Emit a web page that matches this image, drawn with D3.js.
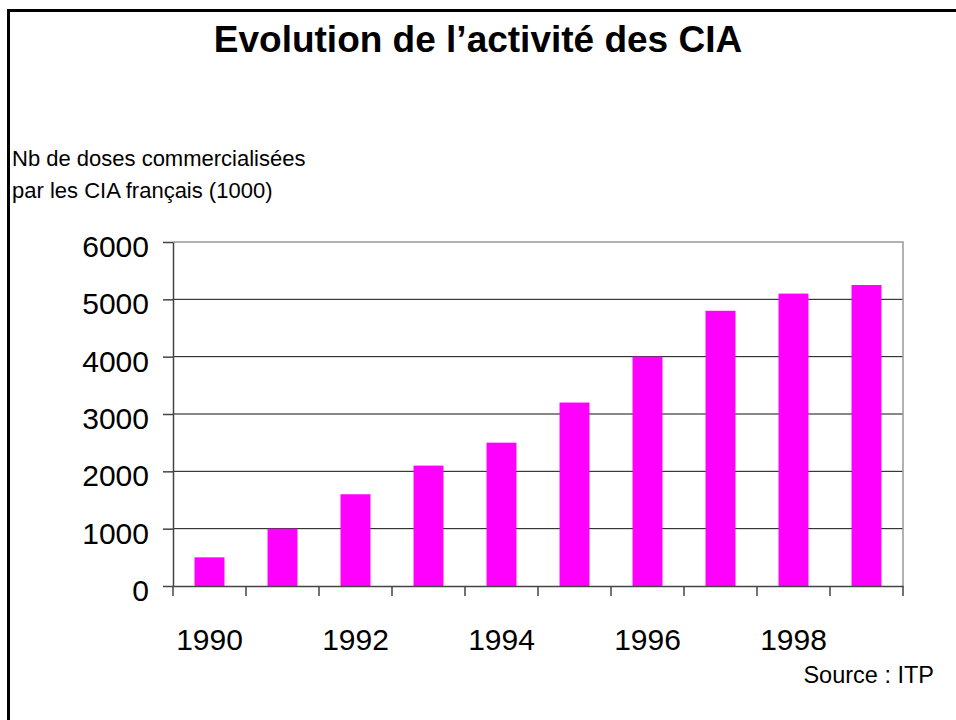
<!DOCTYPE html>
<html>
<head>
<meta charset="utf-8">
<script src="https://cdn.jsdelivr.net/npm/d3@7"></script>
<style>
  body { margin: 0; background: #fff; }
  text { font-family: "Liberation Sans", Arial, sans-serif; }
</style>
</head>
<body>
<div id="chart"></div>
<script>
// data (milliers de doses)
var years = [1990, 1991, 1992, 1993, 1994, 1995, 1996, 1997, 1998, 1999];
var doses = [500, 1000, 1600, 2100, 2500, 3200, 4000, 4800, 5100, 5250];
var yTicks = [0, 1000, 2000, 3000, 4000, 5000, 6000];
var yearLabels = [1990, 1992, 1994, 1996, 1998];

var width = 956, height = 720;
// note: "top" is window.top, so use other names
var plotLeft = 173, plotRight = 903, plotTop = 242, plotBottom = 586;

var svg = d3.select("#chart").append("svg")
    .attr("width", width)
    .attr("height", height);

svg.append("rect").attr("width", width).attr("height", height).attr("fill", "#fff");

// slide frame (top and left visible)
svg.append("path")
    .attr("d", "M8.5," + height + "V10.5H" + width)
    .attr("fill", "none")
    .attr("stroke", "#000")
    .attr("stroke-width", 3);

svg.append("text")
    .attr("x", width / 2)
    .attr("y", 52)
    .attr("text-anchor", "middle")
    .style("font-size", "37px")
    .style("font-weight", "bold")
    .text("Evolution de l\u2019activité des CIA");

svg.append("text")
    .attr("x", 12).attr("y", 166)
    .style("font-size", "22px")
    .text("Nb de doses commercialisées");
svg.append("text")
    .attr("x", 12).attr("y", 198)
    .style("font-size", "22px")
    .text("par les CIA français (1000)");

var x = d3.scaleBand().domain(years).range([plotLeft, plotRight]).padding(0);
var y = d3.scaleLinear().domain([0, 6000]).range([plotBottom, plotTop]);

// grid lines
svg.append("g")
    .selectAll("line")
    .data(yTicks.filter(function (d) { return d > 0 && d < 6000; }))
    .enter()
    .append("line")
    .attr("x1", plotLeft).attr("x2", plotRight)
    .attr("y1", function (d) { return y(d); })
    .attr("y2", function (d) { return y(d); })
    .attr("stroke", "#111")
    .attr("stroke-width", 1);

// plot area border top / right
svg.append("path")
    .attr("d", "M" + plotLeft + "," + y(6000) + "H" + plotRight + "V" + plotBottom)
    .attr("fill", "none")
    .attr("stroke", "#999")
    .attr("stroke-width", 1.5);

var barW = x.bandwidth() * 0.41;
svg.append("g")
    .selectAll("rect")
    .data(doses)
    .enter()
    .append("rect")
    .attr("x", function (d, i) { return x(years[i]) + (x.bandwidth() - barW) / 2; })
    .attr("y", function (d) { return y(d); })
    .attr("width", barW)
    .attr("height", function (d) { return y(0) - y(d); })
    .attr("fill", "#ff00ff");

// y axis
var yAxis = svg.append("g")
    .attr("transform", "translate(" + plotLeft + ",0)")
    .call(d3.axisLeft(y).tickValues(yTicks).tickSize(10).tickPadding(14).tickSizeOuter(0)
        .tickFormat(d3.format("d")));
yAxis.select(".domain").attr("stroke", "#444").attr("stroke-width", 1.5);
yAxis.selectAll(".tick line").attr("stroke", "#444").attr("stroke-width", 1.5);
yAxis.selectAll("text")
    .attr("dy", "0.48em")
    .attr("fill", "#000")
    .style("font-size", "30px")
    .style("font-family", "'Liberation Sans', Arial, sans-serif");

// x axis: labels on band centres, ticks on band edges
var xAxis = svg.append("g")
    .attr("transform", "translate(0," + plotBottom + ")")
    .call(d3.axisBottom(x).tickSize(0).tickPadding(43).tickSizeOuter(0)
        .tickFormat(function (d) { return yearLabels.indexOf(d) >= 0 ? d : ""; }));
xAxis.select(".domain").attr("stroke", "#444").attr("stroke-width", 1.5);
xAxis.selectAll("text")
    .attr("fill", "#000")
    .style("font-size", "30px")
    .style("font-family", "'Liberation Sans', Arial, sans-serif");

var edges = years.map(function (d) { return x(d); }).concat([plotRight]);
xAxis.selectAll(".edge")
    .data(edges)
    .enter()
    .append("line")
    .attr("class", "edge")
    .attr("x1", function (d) { return d; })
    .attr("x2", function (d) { return d; })
    .attr("y1", 0).attr("y2", 10)
    .attr("stroke", "#444")
    .attr("stroke-width", 1.5);

svg.append("text")
    .attr("x", 934).attr("y", 683)
    .attr("text-anchor", "end")
    .style("font-size", "23.5px")
    .text("Source : ITP");
</script>
</body>
</html>
